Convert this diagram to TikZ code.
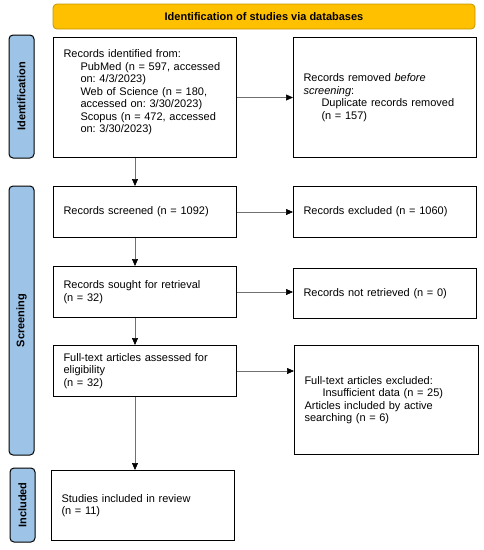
\documentclass[tikz,border=0pt]{standalone}
\usepackage{fontspec}
\setmainfont{Liberation Sans}
\usetikzlibrary{arrows.meta}
\definecolor{banfill}{HTML}{FFC000}
\definecolor{banline}{HTML}{C49500}
\definecolor{sidefill}{HTML}{9DC3E6}
\definecolor{arrline}{HTML}{707070}
\frenchspacing
\begin{document}
\begin{tikzpicture}[x=1pt,y=-1pt,
  font=\fontsize{11}{12.5}\selectfont,
  box/.style={draw=black, line width=1pt, anchor=north west, inner xsep=10pt, inner ysep=2pt, align=left},
  sidelab/.style={draw=black, fill=sidefill, line width=1pt, rounded corners=4pt, rotate=90, minimum height=25pt, inner sep=0pt, font=\bfseries\fontsize{11}{12}\selectfont},
  arr/.style={draw=arrline, line width=0.6pt, -{Triangle[length=7pt,width=6pt,black]}}]
\useasboundingbox (0,0) rectangle (483,550);

\node[draw=banline, fill=banfill, line width=0.8pt, rounded corners=4pt, minimum width=422pt, minimum height=25pt, inner sep=0pt, font=\bfseries\fontsize{11}{12}\selectfont] (ban) at (264,16.5) {Identification of studies via databases};

\node[sidelab, minimum width=123pt] (sid) at (21.5,96.5) {Identification};
\node[sidelab, minimum width=269pt] (sscr) at (21.5,320.5) {Screening};
\node[sidelab, minimum width=74pt] (sinc) at (22.5,505) {Included};

\node[box, text width=163pt, minimum height=120pt] (b1) at (53,37) {Records identified from:\\
\hspace*{17pt}PubMed (n = 597, accessed\\
\hspace*{17pt}on: 4/3/2023)\\
\hspace*{17pt}Web of Science (n = 180,\\
\hspace*{17pt}accessed on: 3/30/2023)\\
\hspace*{17pt}Scopus (n = 472, accessed\\
\hspace*{17pt}on: 3/30/2023)\\
\mbox{}};

\node[box, text width=163pt, minimum height=120pt] (b2) at (293,37) {Records removed \textit{before}\\
\textit{screening}:\\
\hspace*{18pt}Duplicate records removed\\
\hspace*{18pt}(n = 157)};

\node[box, text width=163pt, minimum height=51pt] (b3) at (53,186) {Records screened (n = 1092)};
\node[box, text width=163pt, minimum height=51pt] (b4) at (293,186) {Records excluded (n = 1060)};

\node[box, text width=163pt, minimum height=51pt] (b5) at (53,266) {Records sought for retrieval\\(n = 32)};
\node[box, text width=163pt, minimum height=50pt] (b6) at (293,268) {Records not retrieved (n = 0)};

\node[box, text width=163pt, minimum height=51pt] (b7) at (53,345) {Full-text articles assessed for\\eligibility\\(n = 32)};
\node[box, text width=164pt, minimum height=109pt] (b8) at (294,345) {Full-text articles excluded:\\
\hspace*{18pt}Insufficient data (n = 25)\\
Articles included by active\\
searching (n = 6)};

\node[box, text width=163pt, minimum height=70pt] (b9) at (51,470) {Studies included in review\\(n = 11)};

\coordinate (ax) at (135,0);
\draw[arr] (b1.south -| ax) -- (b3.north -| ax);
\draw[arr] (b3.south -| ax) -- (b5.north -| ax);
\draw[arr] (b5.south -| ax) -- (b7.north -| ax);
\draw[arr] (b7.south -| ax) -- (b9.north -| ax);

\draw[arr] (b1.east) -- (b2.west);
\draw[arr] (b3.east) -- (b4.west);
\draw[arr] (b5.east) -- (b5.east -| b6.west);
\draw[arr] (b7.east) -- (b7.east -| b8.west);
\end{tikzpicture}
\end{document}
